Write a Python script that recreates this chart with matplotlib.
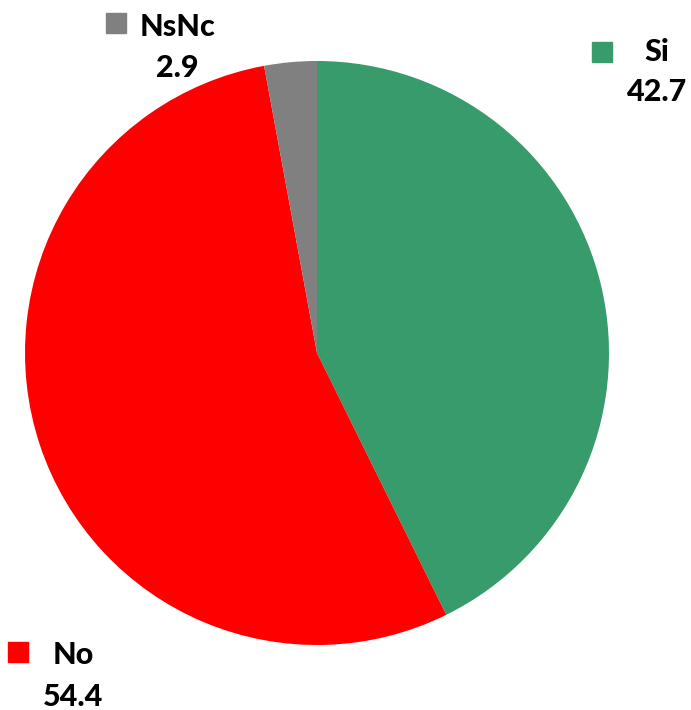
import matplotlib.pyplot as plt

labels = ["Si", "No", "NsNc"]
values = [42.7, 54.4, 2.9]
colors = ["#379b6b", "#ff0000", "#808080"]

fig = plt.figure(figsize=(6.91, 7.10), dpi=100)
ax = fig.add_axes([25/691, 65/710, 584/691, 584/710])
ax.pie(values, colors=colors, startangle=90, counterclock=False, radius=1)
ax.set_xlim(-1, 1)
ax.set_ylim(-1, 1)
ax.set_aspect("equal")
ax.axis("off")

# label blocks: (square x, square y, text center x, name y, value y) in pixels
spots = {
    "Si": (602, 52, 657, 52, 92),
    "No": (18, 652, 73, 655, 697),
    "NsNc": (116, 23, 177, 27, 68),
}
font = dict(family=["Lato", "DejaVu Sans"], fontweight=900, fontsize=22)
for lab, val, col in zip(labels, values, colors):
    sx, sy, tx, ny, vy = spots[lab]
    fig.patches.append(plt.Rectangle(((sx - 10) / 691, 1 - (sy + 10) / 710), 20 / 691, 20 / 710,
                                     transform=fig.transFigure, color=col, figure=fig))
    fig.text(tx / 691, 1 - ny / 710, lab, ha="center", va="center", **font)
    fig.text(tx / 691, 1 - vy / 710, f"{val}", ha="center", va="center", **font)

fig.savefig("out.png", dpi=100, facecolor="white")
